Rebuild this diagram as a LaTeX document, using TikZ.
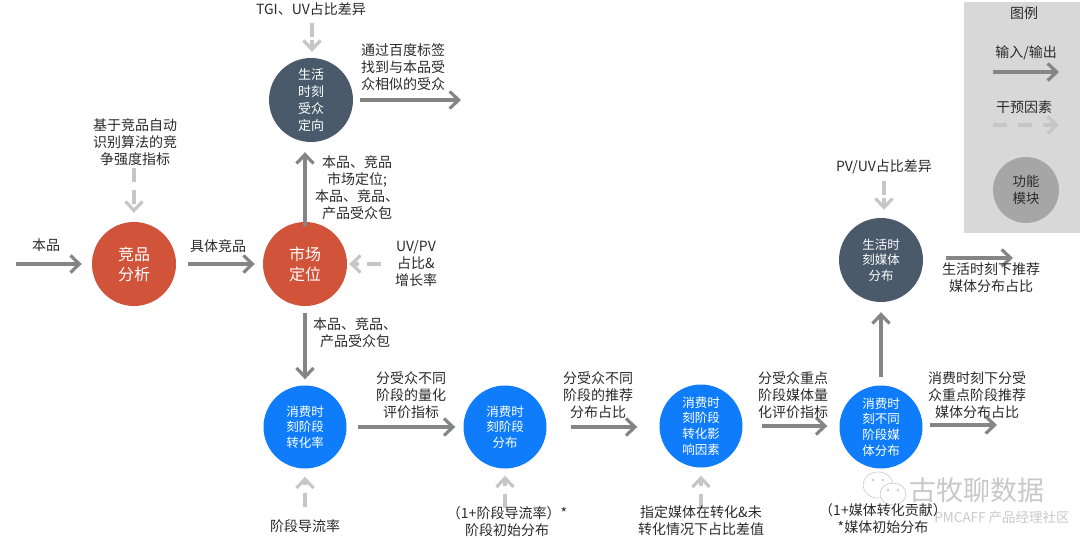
\documentclass[tikz,border=0pt]{standalone}
\usepackage{fontspec}
\setmainfont{Noto Sans CJK SC}
\usetikzlibrary{arrows.meta}
\definecolor{arrowgray}{HTML}{858585}
\definecolor{softgray}{HTML}{C6C6C6}
\definecolor{redc}{HTML}{D0533A}
\definecolor{navyc}{HTML}{4A5A6B}
\definecolor{bluec}{HTML}{0F7DFB}
\definecolor{legendbg}{HTML}{D8D8D8}
\definecolor{legendc}{HTML}{A6A6A6}
\definecolor{txt}{HTML}{2A2A2A}
\definecolor{wm}{HTML}{C8C8C8}
\tikzset{
  mainarrow/.style={draw=arrowgray,line width=3.2pt,-{Straight Barb[length=9pt,width=17pt,line width=3.2pt]}},
  softarrow/.style={draw=softgray,line width=3.2pt,-{Straight Barb[length=9pt,width=17pt,line width=3.2pt]},dash pattern=on 14pt off 8pt},
  softclose/.style={softarrow,dash pattern=on 14pt off 3pt},
  lab/.style={text=txt,align=center,inner sep=0pt,font=\fontsize{14}{17}\selectfont},
  mod/.style={circle,minimum size=#1,inner sep=0pt,align=center,text=white},
  redmod/.style={mod=84pt,fill=redc,font=\fontsize{16}{20}\selectfont},
  navymod/.style={mod=84pt,fill=navyc,font=\fontsize{13}{17}\selectfont},
  bluemod/.style={mod=83pt,fill=bluec,font=\fontsize{12.5}{15.7}\selectfont},
}
\begin{document}
\begin{tikzpicture}[x=1pt,y=-1pt]
\useasboundingbox (0,0) rectangle (1080,538);
% legend
\node[draw=none,fill=legendbg,minimum width=116pt,minimum height=231pt,inner sep=0pt,anchor=north west] (legend) at (964,2) {};
\node[lab] (legtitle) at (1024,13) {图例};
\node[lab] (legio) at (1026,53) {输入/输出};
\coordinate (legioa) at (993,72);
\coordinate (legiob) at (1059,72);
\draw[mainarrow] (legioa) -- (legiob);
\node[lab] (legsoft) at (1024,107) {干预因素};
\coordinate (legsofta) at (993,125);
\coordinate (legsoftb) at (1059,125);
\draw[softarrow,dash pattern=on 14pt off 11pt] (legsofta) -- (legsoftb);
\node[mod=66pt,fill=legendc,text=txt,font=\fontsize{13.4}{17}\selectfont] (legmod) at (1026,190) {功能\\模块};
% modules
\node[redmod] (jp) at (134,264) {竞品\\分析};
\node[redmod] (sc) at (305,264) {市场\\定位};
\node[navymod] (shsz) at (311,100) {生活\\时刻\\受众\\定向};
\node[bluemod] (zhl) at (305,427) {消费时\\刻阶段\\转化率};
\node[bluemod] (jdfb) at (505,427) {消费时\\刻阶段\\分布};
\node[bluemod] (yx) at (701,426) {消费时\\刻阶段\\转化影\\响因素};
\node[bluemod] (mtfb) at (881,427) {消费时\\刻不同\\阶段媒\\体分布};
\node[navymod,font=\fontsize{12.5}{15.5}\selectfont] (shmt) at (881,260) {生活时\\刻媒体\\分布};
% watermark
\draw[wm,fill=white,line width=.6pt] (878,485) ellipse (15 and 13);
\fill[wm] (873,480) circle (1.3) (883,480) circle (1.3);
\draw[wm,fill=white,line width=.6pt] (893,494) ellipse (13 and 11);
\fill[wm] (888,490) circle (1.3) (898,490) circle (1.3);
\node[inner sep=0pt,text=wm,font=\fontsize{27}{30}\selectfont] (wmname) at (977,490) {古牧聊数据};
\node[inner sep=0pt,text=wm,font=\fontsize{13.5}{16}\selectfont] (wmsub) at (1002,517) {PMCAFF 产品经理社区};
% free ends
\coordinate (in) at (16,264);
\coordinate (softl2) at (134,168);
\coordinate (softl4) at (312,23);
\coordinate (softl7) at (381,264);
\coordinate (softl13) at (305,507);
\coordinate (softl14) at (505,508);
\coordinate (softl15) at (701,508);
\coordinate (softl17) at (884,181);
\coordinate (out1) at (360,100);
\coordinate (out1b) at (461,100);
\coordinate (out2) at (946,258);
\coordinate (out2b) at (1013,258);
\coordinate (out3) at (930,425);
\coordinate (out3b) at (997,425);
% main arrows
\draw[mainarrow,shorten >=10pt] (in) -- (jp.west);
\draw[mainarrow,shorten <=12pt,shorten >=8pt] (jp.east) -- (sc.west);
\draw[mainarrow,shorten <=-4pt,shorten >=10pt] (sc.north) -- (sc.north|-shsz.south);
\draw[mainarrow,shorten <=7pt,shorten >=6pt] (sc.south) -- (zhl.north);
\draw[mainarrow,shorten <=11pt,shorten >=8pt] (zhl.east) -- (jdfb.west);
\draw[mainarrow,shorten <=24pt,shorten >=22pt] (jdfb.east) -- (jdfb.east-|yx.west);
\draw[mainarrow,shorten <=19pt,shorten >=12pt] (yx.east) -- (yx.east-|mtfb.west);
\draw[mainarrow,shorten <=8pt,shorten >=10pt] (mtfb.north) -- (shmt.south);
\draw[mainarrow] (out1) -- (out1b);
\draw[mainarrow] (out2) -- (out2b);
\draw[mainarrow] (out3) -- (out3b);
% soft arrows
\draw[softarrow,shorten >=9pt] (softl2) -- (jp.north);
\draw[softclose,shorten >=6pt] (softl4) -- (softl4|-shsz.north);
\draw[softarrow,shorten >=2pt] (softl7) -- (sc.east);
\draw[softarrow,shorten >=8pt] (softl13) -- (zhl.south);
\draw[softarrow,shorten >=7pt] (softl14) -- (jdfb.south);
\draw[softarrow,shorten >=8pt] (softl15) -- (yx.south);
\draw[softclose,shorten >=8pt] (softl17) -- (softl17|-shmt.north);
% labels
\node[lab] (l1) at (46,245) {本品};
\node[lab] (l2) at (135,142) {基于竞品自动\\识别算法的竞\\争强度指标};
\node[lab] (l3) at (218,246) {具体竞品};
\node[lab] (l4) at (311,9) {TGI、UV占比差异};
\node[lab] (l5) at (403,67) {通过百度标签\\找到与本品受\\众相似的受众};
\node[lab] (l6) at (357,188) {本品、竞品\\市场定位;\\本品、竞品、\\产品受众包};
\node[lab] (l7) at (416,263) {UV/PV\\占比\&\\增长率};
\node[lab] (l8) at (355,333) {本品、竞品、\\产品受众包};
\node[lab] (l9) at (411,395) {分受众不同\\阶段的量化\\评价指标};
\node[lab] (l10) at (598,395) {分受众不同\\阶段的推荐\\分布占比};
\node[lab] (l11) at (793,395) {分受众重点\\阶段媒体量\\化评价指标};
\node[lab] (l12) at (977,395) {消费时刻下分受\\众重点阶段推荐\\媒体分布占比};
\node[lab] (l13) at (305,526) {阶段导流率};
\node[lab] (l14) at (507,522) {（1+阶段导流率）*\\阶段初始分布};
\node[lab] (l15) at (701,521) {指定媒体在转化\&未\\转化情况下占比差值};
\node[lab] (l16) at (883,519) {（1+媒体转化贡献）\\*媒体初始分布};
\node[lab] (l17) at (884,167) {PV/UV占比差异};
\node[lab] (l18) at (991,278) {生活时刻下推荐\\媒体分布占比};
\end{tikzpicture}
\end{document}
